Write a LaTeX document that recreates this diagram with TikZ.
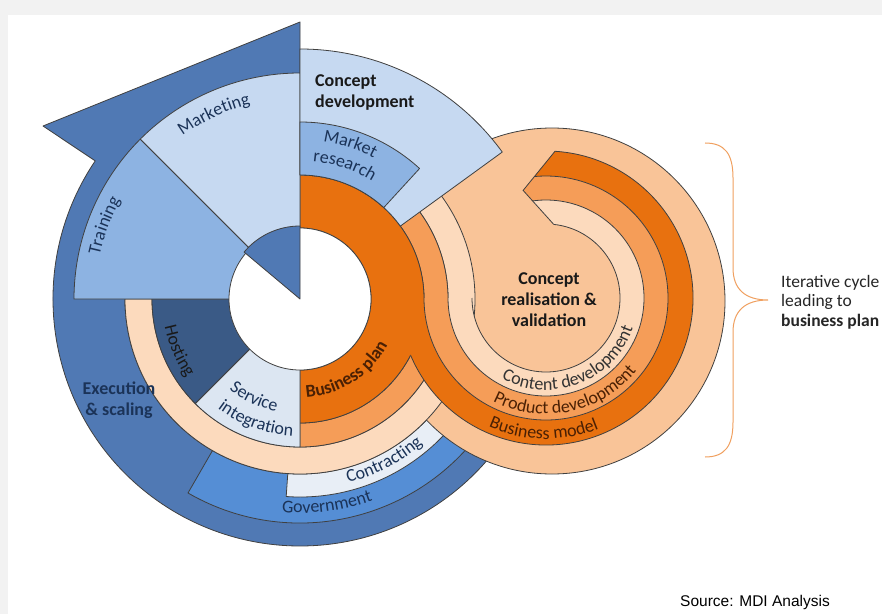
\documentclass[tikz,border=0pt]{standalone}
\usepackage{xcolor}
\usepackage{fontspec}
\setmainfont{Carlito}
\newfontfamily\sourcefont{Liberation Sans}
\usepackage{tikz}
\usetikzlibrary{calc,decorations.text}

\definecolor{arrowblue}{HTML}{5079B4}
\definecolor{paleblue}{HTML}{C6D9F1}
\definecolor{midblue}{HTML}{8DB3E2}
\definecolor{navy}{HTML}{3A5A86}
\definecolor{greyblue}{HTML}{DCE6F2}
\definecolor{govblue}{HTML}{558ED5}
\definecolor{iceblue}{HTML}{E8EEF6}
\definecolor{deeporange}{HTML}{E8710F}
\definecolor{midorange}{HTML}{F59D58}
\definecolor{lightpeach}{HTML}{FCDABD}
\definecolor{peach}{HTML}{F9C498}
\definecolor{bracecol}{HTML}{F0A060}
\definecolor{labelnavy}{HTML}{1B3358}
\definecolor{labelbrown}{HTML}{4A2004}

\newcommand{\lbl}{\fontsize{18}{21}\selectfont}

\begin{document}
\begin{tikzpicture}[x=1pt, y=1pt,
  seg/.style={draw=black!75, line width=0.8pt, line join=round},
  edge/.style={draw=black!75, line width=0.8pt},
  arclabel/.style={decorate, decoration={text along path, text align=center, text={#1}}}
]
\useasboundingbox (0,0) rectangle (882,614);
\fill[black!5] (0,0) rectangle (882,614);
\fill[white] (8,0) rectangle (882,599);

\coordinate (L) at (300,315);  % left wheel
\coordinate (S) at (546,316);  % spiral centre
\coordinate (P) at (552,313);  % peach disc

% Execution arrow round the left wheel
\path[seg, fill=arrowblue] ($(L)+(90:175)$) -- ($(L)+(90:277)$) -- (43,488)
  -- ($(L)+(146:247)$) arc[start angle=146, end angle=330, radius=247pt]
  -- ($(L)+(330:175)$) arc[start angle=330, end angle=90, radius=175pt] -- cycle;

% Government and contracting
\path[seg, fill=govblue] ($(L)+(240:175)$) -- ($(L)+(240:224)$)
  arc[start angle=240, end angle=330, radius=224pt]
  -- ($(L)+(330:175)$) arc[start angle=330, end angle=240, radius=175pt] -- cycle;
\path[seg, fill=iceblue] ($(L)+(266:175)$) -- ($(L)+(266:198)$)
  arc[start angle=266, end angle=330, radius=198pt]
  -- ($(L)+(330:175)$) arc[start angle=330, end angle=266, radius=175pt] -- cycle;

% Peach disc behind the spiral
\path[seg, fill=peach] (P) circle[radius=173pt];

% Orange rings of the left wheel
\path[seg, fill=lightpeach] ($(L)+(40:148)$) -- ($(L)+(40:175)$)
  arc[start angle=40, end angle=-180, radius=175pt]
  -- ($(L)+(180:148)$) arc[start angle=-180, end angle=40, radius=148pt] -- cycle;
\path[seg, fill=midorange] ($(L)+(40:124)$) -- ($(L)+(40:148)$)
  arc[start angle=40, end angle=-90, radius=148pt]
  -- ($(L)+(-90:124)$) arc[start angle=-90, end angle=40, radius=124pt] -- cycle;
\path[seg, fill=deeporange] ($(L)+(90:71)$) -- ($(L)+(90:124)$)
  arc[start angle=90, end angle=-90, radius=124pt]
  -- ($(L)+(-90:71)$) arc[start angle=-90, end angle=90, radius=71pt] -- cycle;

% Blue sectors
\path[seg, fill=navy] (L) -- ($(L)+(180:148)$) arc[start angle=180, end angle=225, radius=148pt] -- cycle;
\path[seg, fill=greyblue] (L) -- ($(L)+(225:148)$) arc[start angle=225, end angle=270, radius=148pt] -- cycle;
\path[seg, fill=paleblue] (L) -- ($(L)+(90:226)$) arc[start angle=90, end angle=135, radius=226pt] -- cycle;
\path[seg, fill=midblue] (L) -- ($(L)+(135:226)$) arc[start angle=135, end angle=180, radius=226pt] -- cycle;

% Spiral bands
\coordinate (sA) at ($(S)+(86.5:147)$);
\coordinate (sB) at ($(S)+(95.5:122)$);
\coordinate (sC) at ($(S)+(102:110)$);
\coordinate (sE) at ($(S)+(97.9:98)$);
\coordinate (sD) at ($(S)+(84:74)$);
\fill[deeporange] (sA) arc[start angle=86.5, end angle=-180, radius=147pt]
  -- ($(S)+(180:122)$) arc[start angle=-180, end angle=95.5, radius=122pt] -- cycle;
\fill[midorange] (sB) arc[start angle=95.5, end angle=-180, radius=122pt]
  -- ($(S)+(180:98)$) arc[start angle=-180, end angle=97.9, radius=98pt] -- (sC) -- cycle;
\fill[lightpeach] (sE) arc[start angle=97.9, end angle=-180, radius=98pt]
  -- ($(S)+(180:74)$) arc[start angle=-180, end angle=84, radius=74pt] -- cycle;
\draw[edge] ($(S)+(-157:147)$) arc[start angle=-157, end angle=86.5, radius=147pt] -- (sC) -- (sD);
\draw[edge] ($(S)+(180:122)$) arc[start angle=-180, end angle=95.5, radius=122pt];
\draw[edge] ($(S)+(180:98)$) arc[start angle=-180, end angle=97.9, radius=98pt];
\draw[edge] ($(S)+(180:74)$) arc[start angle=-180, end angle=84, radius=74pt];

% Hub
\path[seg, fill=white] (L) circle[radius=71pt];
\path[seg, fill=arrowblue] (L) -- ($(L)+(90:73)$) arc[start angle=90, end angle=140, radius=73pt] -- cycle;

% Concept development on top
\path[seg, fill=paleblue] ($(L)+(36:124)$) -- ($(L)+(36:250)$)
  arc[start angle=36, end angle=90, radius=250pt]
  -- ($(L)+(90:124)$) arc[start angle=90, end angle=36, radius=124pt] -- cycle;
\path[seg, fill=midblue] ($(L)+(47.5:124)$) -- ($(L)+(47.5:177)$)
  arc[start angle=47.5, end angle=90, radius=177pt]
  -- ($(L)+(90:124)$) arc[start angle=90, end angle=47.5, radius=124pt] -- cycle;

% Labels along the arcs
\path[arclabel={|\lbl\color{labelnavy}|Marketing}] ($(L)+(150:201)$) arc[start angle=150, end angle=80, radius=201pt];
\path[arclabel={|\lbl\color{labelnavy}|Training}] ($(L)+(195:205)$) arc[start angle=195, end angle=124, radius=205pt];
\path[arclabel={|\lbl\color{labelnavy}|Market}] ($(L)+(100:159)$) arc[start angle=100, end angle=44, radius=159pt];
\path[arclabel={|\lbl\color{labelnavy}|research}] ($(L)+(100:138)$) arc[start angle=100, end angle=43, radius=138pt];
\path[arclabel={|\lbl\color{black!90}|Hosting}] ($(L)+(170:138)$) arc[start angle=170, end angle=236, radius=138pt];
\path[arclabel={|\lbl\color{labelnavy}|Service}] ($(L)+(220:115)$) arc[start angle=220, end angle=270, radius=115pt];
\path[arclabel={|\lbl\color{labelnavy}|integration}] ($(L)+(215:137)$) arc[start angle=215, end angle=285, radius=137pt];
\path[arclabel={|\lbl\bfseries\color{labelbrown}|Business plan}] ($(L)+(-100:99)$) arc[start angle=-100, end angle=-14, radius=99pt];
\path[arclabel={|\lbl\color{labelnavy}|Contracting}] ($(L)+(-100:190)$) arc[start angle=-100, end angle=-25, radius=190pt];
\path[arclabel={|\lbl\color{labelnavy}|Government}] ($(L)+(-120:214)$) arc[start angle=-120, end angle=-45, radius=214pt];
\path[arclabel={|\lbl\color{black!80}|Content development}] ($(S)+(-140:92)$) arc[start angle=-140, end angle=2, radius=92pt];
\path[arclabel={|\lbl\color{labelbrown}|Product development}] ($(S)+(-130:116)$) arc[start angle=-130, end angle=-26, radius=116pt];
\path[arclabel={|\lbl\color{labelbrown}|Business model}] ($(S)+(-130:141)$) arc[start angle=-130, end angle=-52, radius=141pt];

% Plain labels
\node[anchor=north west, align=left, font=\lbl\bfseries, text=black!90, inner sep=0pt] (conceptdev) at (315,540) {Concept\\development};
\node[align=center, font=\lbl\bfseries, text=labelnavy] (exec) at (119,214) {Execution\\\& scaling};
\node[align=center, font=\lbl\bfseries, text=black!90] (realise) at (549,314) {Concept\\realisation \&\\validation};

% Brace and note on the right
\coordinate (braceTop) at (705,471);
\coordinate (braceTip) at (768,314);
\coordinate (braceBot) at (705,157);
\draw[bracecol, line width=1pt] (braceTop) .. controls (725,471) and (733,460) .. (733,436)
  -- (733,346) .. controls (733,325) and (745,314) .. (braceTip)
  .. controls (745,314) and (733,303) .. (733,282)
  -- (733,192) .. controls (733,168) and (725,157) .. (braceBot);
\node[anchor=west, align=left, font=\fontsize{17.5}{19.5}\selectfont, text=black!85, inner sep=0pt] (cycle) at (781,312) {Iterative cycle\\leading to\\\textbf{business plan}};

\node[anchor=base west, font=\sourcefont\fontsize{15.5}{17}\selectfont, inner sep=0pt] (src) at (680,8) {Source: MDI Analysis};
\end{tikzpicture}
\end{document}
